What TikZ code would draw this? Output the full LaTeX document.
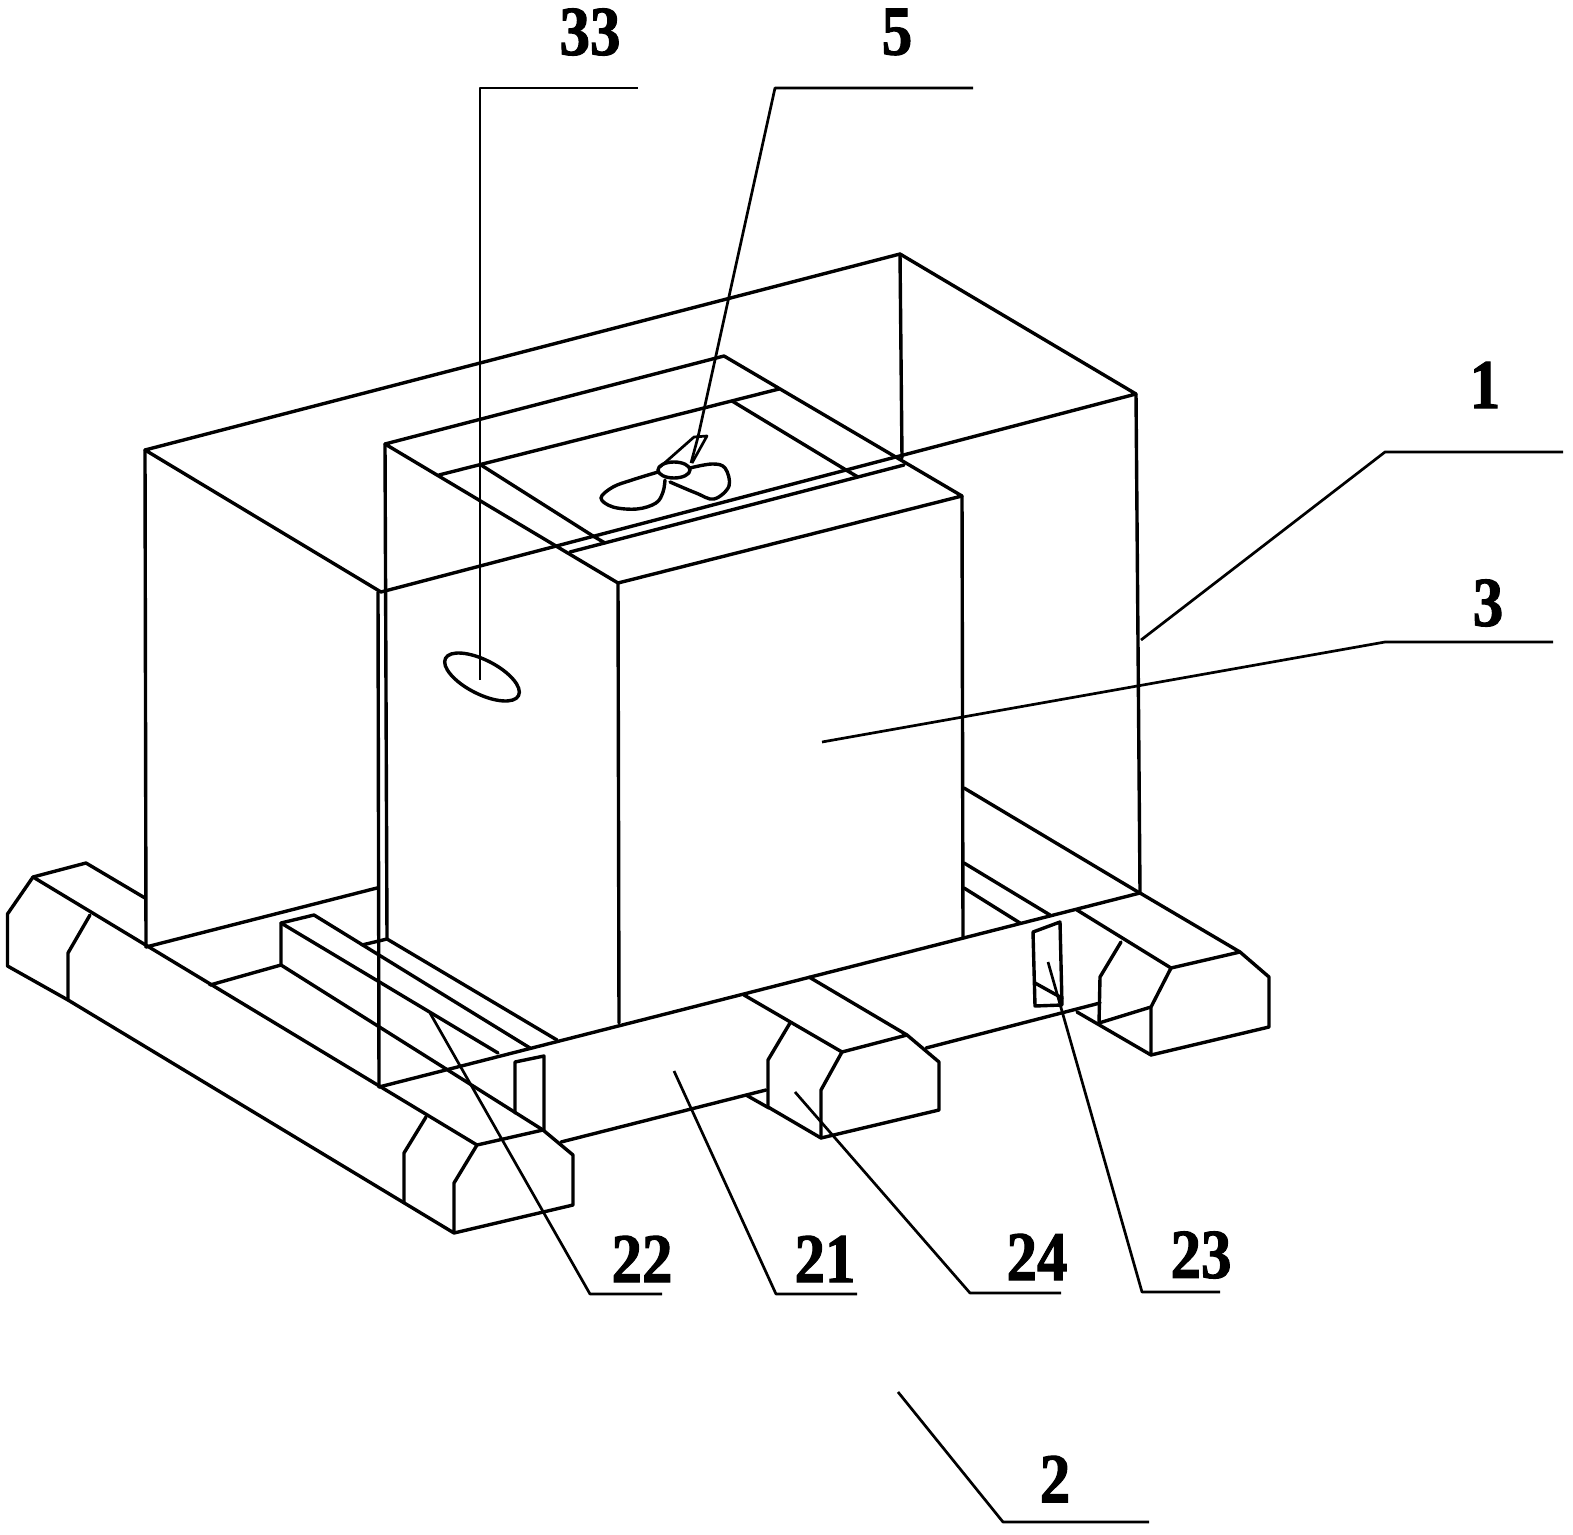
\documentclass[tikz,border=0pt]{standalone}
\usepackage{fontspec}
\setmainfont{Liberation Serif}[BoldFeatures={FakeBold=1.6,FakeStretch=0.87}]
\tikzset{
  ln/.style={line width=1.7pt,line join=round,line cap=round,black},
  lead/.style={line width=1.35pt,line join=round,black},
  lab/.style={font=\fontsize{35}{35}\selectfont\bfseries,inner sep=0pt,black}
}
\begin{document}
\begin{tikzpicture}[x=0.5pt,y=-0.5pt]
\useasboundingbox (0,0) rectangle (1573,1535);
\fill[white] (0,0) rectangle (1573,1535);
% outer housing
\draw[ln] (145,450)--(900,254)--(1136,394)--(381,592)--cycle;
\draw[ln] (145,450)--(146,947);
\draw[ln] (900,254)--(902,458);
\draw[ln] (1136,394)--(1140,892);
\draw[ln] (378,592)--(379,1087);
% inner box
\draw[ln] (385,444)--(724,356)--(962,496)--(618,583)--cycle;
\draw[ln] (385,444)--(387,939);
\draw[ln] (618,583)--(619,1023);
\draw[ln] (962,496)--(963,937);
% recess on top
\draw[ln] (439,475)--(779,389);
\draw[ln] (481,465)--(593,536);
\draw[ln] (732,401)--(846,470);
\draw[ln] (570,552)--(904,465);
\draw[ln] (593,536)--(605,543);
\draw[ln] (846,470)--(858,477);
% fan
\draw[ln] (674,470) ellipse [x radius=16,y radius=8];
\draw[ln] plot[smooth,tension=0.6] coordinates {(658,472)(632,480)(613,487)(601,498)(613,507)(637,509)(656,503)(663,492)(665,480)};
\draw[ln] plot[smooth,tension=0.6] coordinates {(690,468)(712,464)(725,468)(729,486)(714,499)(696,493)(670,482)};
\draw[lead] (660,467)--(694,437)--(707,436)--(692,463);
\draw[lead] (698,437)--(691,463);
% base: left runner
\draw[ln] (33,877)--(86,863)--(145,898);
\draw[ln] (33,877)--(7.5,914)--(7.5,966)--(68,1000)--(454,1233)--(573,1205)--(573,1155)--(543,1130)--(477,1145)--(454,1183)--(454,1233);
\draw[ln] (33,877)--(477,1145);
\draw[ln] (90,915)--(68,953)--(68,1000);
\draw[ln] (426,1117)--(404,1153)--(404,1202);
% floor lines
\draw[ln] (146,947)--(377,888);
\draw[ln] (210,985)--(281,965);
% rail 22
\draw[ln] (281,965)--(281,923)--(314,915)--(530,1048);
\draw[ln] (281,923)--(498,1053);
\draw[ln] (281,965)--(543,1130);
\draw[ln] (362,945)--(387,939)--(557,1040);
% slot left
\draw[ln] (515,1113)--(515,1062)--(544,1056)--(544,1130);
% beam
\draw[ln] (379,1087)--(1140,893);
\draw[ln] (561,1142)--(766,1090);
\draw[ln] (926,1048)--(1100,1003);
% middle foot
\draw[ln] (744,995)--(842,1052)--(907,1035)--(809,977);
\draw[ln] (907,1035)--(939,1062)--(939,1110)--(821,1138)--(768,1107)--(768,1060)--(790,1023);
\draw[ln] (842,1052)--(821,1090)--(821,1138);
\draw[ln] (746,1095)--(769,1108);
% rear walls right
\draw[ln] (964,788)--(1138,892);
\draw[ln] (964,863)--(1050,915);
\draw[ln] (964,888)--(1020,923);
% right foot
\draw[ln] (1077,910)--(1171,968)--(1240,952)--(1140,893);
\draw[ln] (1240,952)--(1269,977)--(1269,1027)--(1151,1055)--(1077,1012);
\draw[ln] (1171,968)--(1151,1007)--(1151,1055);
\draw[ln] (1121,942)--(1100,977)--(1099,1023)--(1151,1007);
% slot right
\draw[ln] (1035,1006)--(1033,932)--(1060,922)--(1062,1005)--cycle;
\draw[ln] (1035,983)--(1062,998);
% hole 33
\draw[ln] (482,677) ellipse [x radius=41,y radius=17,rotate=-27];
% labels
\node[lab] (n33) at (590,32) {33};
\node[lab] (n5) at (897,32) {5};
\node[lab] (n1) at (1485,385) {1};
\node[lab] (n3) at (1488,603) {3};
\node[lab] (n22) at (642,1259) {22};
\node[lab] (n21) at (825,1259) {21};
\node[lab] (n24) at (1037,1257) {24};
\node[lab] (n23) at (1201,1255) {23};
\node[lab] (n2) at (1055,1479) {2};
% leader ends
\coordinate (p33) at (480,680);
\coordinate (p5) at (698,437);
\coordinate (p1) at (1141,640);
\coordinate (p3) at (822,742);
\coordinate (p22) at (430,1013);
\coordinate (p21) at (674,1071);
\coordinate (p24) at (795,1092);
\coordinate (p23) at (1048,962);
\coordinate (p2) at (898,1392);
\draw[lead] (p33)--(480,88)--(638,88);
\draw[lead] (p5)--(775,88)--(973,88);
\draw[lead] (p1)--(1385,452)--(1563,452);
\draw[lead] (p3)--(1385,642)--(1553,642);
\draw[lead] (p22)--(590,1294)--(662,1294);
\draw[lead] (p21)--(776,1294)--(857,1294);
\draw[lead] (p24)--(970,1293)--(1061,1293);
\draw[lead] (p23)--(1142,1292)--(1220,1292);
\draw[lead] (p2)--(1003,1522)--(1149,1522);
\end{tikzpicture}
\end{document}
